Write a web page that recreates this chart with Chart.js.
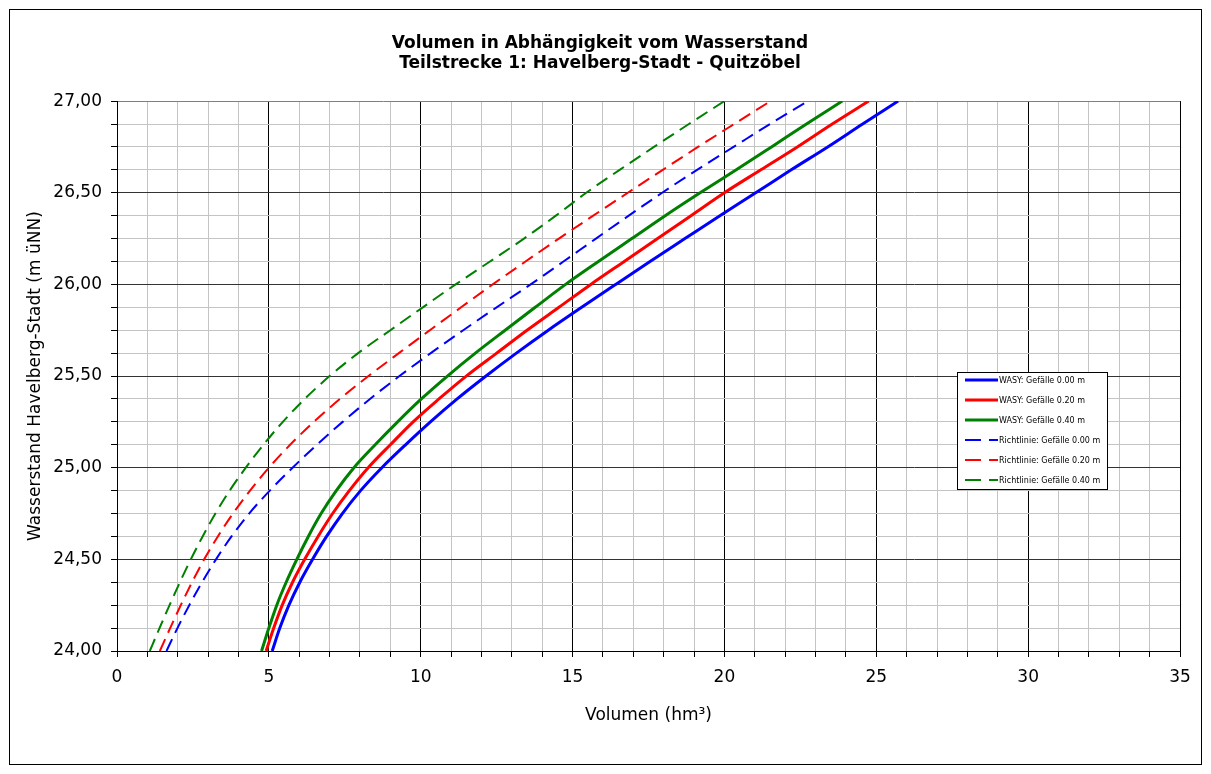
<!DOCTYPE html>
<html>
<head>
<meta charset="utf-8">
<script src="https://cdn.jsdelivr.net/npm/chart.js@4/dist/chart.umd.min.js"></script>
<style>
    html, body { margin: 0; padding: 0; background: #fff; }
    #wrap { width: 1211px; height: 774px; position: relative; }
</style>
</head>
<body>
<div id="wrap"><canvas id="chart"></canvas></div>
<script>
// Wasserstand (m üNN) - same levels for all curves
const wasserstand = [24.0, 24.125, 24.25, 24.375, 24.5, 24.625, 24.75, 24.875, 25.0,
    25.125, 25.25, 25.375, 25.5, 25.625, 25.75, 25.875, 26.0,
    26.125, 26.25, 26.375, 26.5, 26.625, 26.75, 26.875, 27.0];

// Volumen (hm³) per curve
const wasy000 = [5.11, 5.36, 5.66, 6.02, 6.44, 6.9, 7.42, 8.02, 8.72,
    9.5, 10.32, 11.2, 12.15, 13.15, 14.2, 15.3, 16.42,
    17.55, 18.7, 19.85, 21.03, 22.2, 23.4, 24.55, 25.72];
const wasy020 = [4.91, 5.16, 5.44, 5.78, 6.18, 6.62, 7.1, 7.65, 8.27,
    9.0, 9.75, 10.6, 11.5, 12.5, 13.5, 14.55, 15.6,
    16.7, 17.8, 18.9, 20.0, 21.2, 22.4, 23.55, 24.75];
const wasy040 = [4.76, 5.0, 5.26, 5.57, 5.92, 6.3, 6.72, 7.22, 7.8,
    8.5, 9.24, 10.02, 10.88, 11.8, 12.78, 13.77, 14.77,
    15.85, 16.95, 18.05, 19.2, 20.39, 21.55, 22.7, 23.88];
const richt000 = [1.63, 1.99, 2.38, 2.8, 3.26, 3.77, 4.35, 5.03, 5.78,
    6.58, 7.43, 8.33, 9.3, 10.33, 11.4, 12.5, 13.62,
    14.7, 15.77, 16.85, 17.95, 19.1, 20.3, 21.5, 22.75];
const richt020 = [1.41, 1.75, 2.1, 2.47, 2.87, 3.32, 3.82, 4.38, 5.0,
    5.7, 6.48, 7.34, 8.28, 9.28, 10.3, 11.33, 12.37,
    13.45, 14.55, 15.68, 16.82, 17.97, 19.13, 20.32, 21.52];
const richt040 = [1.08, 1.4, 1.73, 2.07, 2.43, 2.82, 3.24, 3.71, 4.24,
    4.82, 5.46, 6.18, 7.0, 7.94, 9.0, 10.07, 11.15,
    12.28, 13.4, 14.45, 15.45, 16.55, 17.68, 18.83, 20.0];

const seriesLabels = ['WASY: Gefälle 0.00 m', 'WASY: Gefälle 0.20 m', 'WASY: Gefälle 0.40 m',
    'Richtlinie: Gefälle 0.00 m', 'Richtlinie: Gefälle 0.20 m', 'Richtlinie: Gefälle 0.40 m'];
const seriesValues = [wasy000, wasy020, wasy040, richt000, richt020, richt040];
const seriesColors = ['#0000ff', '#ff0000', '#008000', '#0000ff', '#ff0000', '#008000'];

const FONT = 'DejaVu Sans';

function toPoints(xs) {
    return xs.map((x, i) => ({ x: x, y: wasserstand[i] }));
}

const datasets = seriesValues.map((vals, i) => {
    const dashed = i >= 3;
    return {
        label: seriesLabels[i],
        data: toPoints(vals),
        showLine: true,
        borderColor: seriesColors[i],
        backgroundColor: seriesColors[i],
        borderWidth: dashed ? 2 : 3,
        borderDash: dashed ? [13, 7] : [],
        pointRadius: 0,
        cubicInterpolationMode: 'monotone'
    };
});

// white page with thin black frame
const frame = {
    id: 'frame',
    beforeDraw(chart) {
        const ctx = chart.ctx;
        ctx.save();
        ctx.fillStyle = '#fff';
        ctx.fillRect(0, 0, chart.width, chart.height);
        ctx.strokeStyle = '#000';
        ctx.lineWidth = 1;
        ctx.strokeRect(9.5, 9.5, 1192, 755);
        ctx.restore();
    }
};

// legend box inside the plot, like the original
const legendBox = {
    id: 'legendBox',
    afterDatasetsDraw(chart) {
        const ctx = chart.ctx;
        const x = 957.5, y = 372.5, w = 150, h = 117;
        ctx.save();
        ctx.fillStyle = '#fff';
        ctx.fillRect(x, y, w, h);
        ctx.strokeStyle = '#000';
        ctx.lineWidth = 1;
        ctx.strokeRect(x, y, w, h);
        ctx.font = '8px ' + FONT;
        ctx.textBaseline = 'middle';
        chart.data.datasets.forEach((ds, i) => {
            const ly = 380 + i * 20;
            ctx.strokeStyle = ds.borderColor;
            ctx.lineWidth = ds.borderWidth;
            ctx.setLineDash(ds.borderDash.length ? [16, 8] : []);
            ctx.beginPath();
            ctx.moveTo(965, ly);
            ctx.lineTo(998, ly);
            ctx.stroke();
            ctx.setLineDash([]);
            ctx.fillStyle = '#000';
            ctx.fillText(ds.label, 999, ly + 1);
        });
        ctx.restore();
    }
};

function isMajorY(v) {
    return Math.abs(v * 2 - Math.round(v * 2)) < 1e-6;
}

new Chart(document.getElementById('chart'), {
    type: 'scatter',
    data: { datasets: datasets },
    plugins: [frame, legendBox],
    options: {
        responsive: true,
        maintainAspectRatio: false,
        animation: false,
        events: [],
        layout: { padding: { left: 20, right: 31, top: 0, bottom: 0 } },
        plugins: {
            legend: { display: false },
            tooltip: { enabled: false },
            title: {
                display: true,
                text: ['Volumen in Abhängigkeit vom Wasserstand', 'Teilstrecke 1: Havelberg-Stadt - Quitzöbel'],
                color: '#000',
                font: { family: FONT, size: 17, weight: 'bold', lineHeight: 1.15 },
                padding: { top: 34, bottom: 28 }
            }
        },
        scales: {
            x: {
                type: 'linear',
                min: 0,
                max: 35,
                afterFit: s => { s.height = 123; },
                ticks: {
                    stepSize: 1,
                    autoSkip: false,
                    maxRotation: 0,
                    padding: 10,
                    color: '#000',
                    font: { family: FONT, size: 17 },
                    callback: v => (v % 5 === 0 ? String(v) : '')
                },
                grid: {
                    color: c => (c.tick && c.tick.value % 5 === 0 ? '#000' : '#c4c4c4'),
                    tickColor: '#000',
                    tickLength: 6,
                    lineWidth: 1
                },
                border: { color: '#000', width: 1 },
                title: {
                    display: true,
                    text: 'Volumen (hm³)',
                    color: '#000',
                    font: { family: FONT, size: 17 },
                    padding: { top: 0, bottom: 48 }
                }
            },
            y: {
                type: 'linear',
                min: 24,
                max: 27,
                afterFit: s => { s.width = 97; },
                ticks: {
                    stepSize: 0.125,
                    autoSkip: false,
                    padding: 9,
                    color: '#000',
                    font: { family: FONT, size: 17 },
                    callback: v => (isMajorY(v) ? v.toFixed(2).replace('.', ',') : '')
                },
                grid: {
                    color: c => {
                        if (!c.tick) return '#c4c4c4';
                        if (c.tick.value === 27) return '#808080';
                        return isMajorY(c.tick.value) ? '#333' : '#c4c4c4';
                    },
                    tickColor: '#000',
                    tickLength: 6,
                    lineWidth: 1
                },
                border: { color: '#000', width: 1 },
                title: {
                    display: true,
                    text: 'Wasserstand Havelberg-Stadt (m üNN)',
                    color: '#000',
                    font: { family: FONT, size: 17 },
                    padding: { top: 5, bottom: 0 }
                }
            }
        }
    }
});
</script>
</body>
</html>
